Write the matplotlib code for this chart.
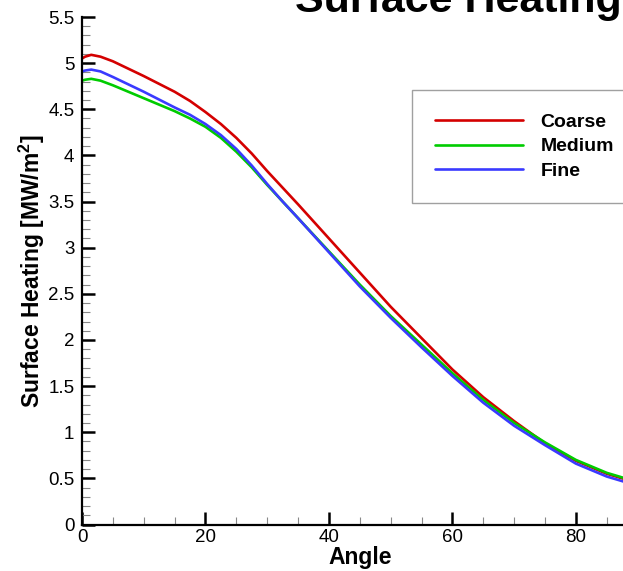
#!/usr/bin/env python3
"""Surface heating vs angle for three grid levels (coarse / medium / fine)."""

import matplotlib
matplotlib.use("Agg")
import matplotlib.pyplot as plt
from matplotlib.ticker import MultipleLocator

# values
angle = [0, 0.5, 1.5, 3, 5, 10, 15, 17.5, 20, 22.5, 25, 27.5, 30, 32.5, 35,
         40, 45, 50, 55, 60, 65, 70, 75, 80, 85, 90]
coarse = [5.05, 5.07, 5.09, 5.07, 5.02, 4.86, 4.69, 4.59, 4.47, 4.34, 4.19, 4.02, 3.83, 3.65, 3.47,
          3.10, 2.73, 2.36, 2.02, 1.68, 1.38, 1.12, 0.88, 0.69, 0.55, 0.45]
medium = [4.81, 4.82, 4.83, 4.81, 4.76, 4.62, 4.48, 4.40, 4.31, 4.19, 4.04, 3.87, 3.68, 3.50, 3.32,
          2.96, 2.60, 2.26, 1.95, 1.64, 1.35, 1.10, 0.89, 0.70, 0.56, 0.46]
fine = [4.91, 4.92, 4.93, 4.91, 4.85, 4.69, 4.52, 4.44, 4.34, 4.22, 4.07, 3.89, 3.69, 3.50, 3.32,
        2.95, 2.58, 2.24, 1.92, 1.61, 1.32, 1.07, 0.86, 0.66, 0.52, 0.42]

series = [("Coarse", coarse, "#d40000"),
          ("Medium", medium, "#00cc00"),
          ("Fine", fine, "#3a3aff")]

W, H = 623, 571

plt.rcParams["font.family"] = ["Liberation Sans", "DejaVu Sans"]
plt.rcParams["mathtext.fontset"] = "custom"
plt.rcParams["mathtext.rm"] = "Liberation Sans:bold"
plt.rcParams["mathtext.bf"] = "Liberation Sans:bold"
plt.rcParams["mathtext.it"] = "Liberation Sans:bold"


def px(x, y):
    """figure fraction from pixel coords (origin top-left)"""
    return x / W, 1 - y / H


def main():
    fig = plt.figure(figsize=(W / 100, H / 100), dpi=100)
    # axes run past the right edge of the picture (the original is cropped)
    x0, y_top, x_end, y_bot = 82, 17, 637.6, 524.5
    ax = fig.add_axes([x0 / W, 1 - y_bot / H, (x_end - x0) / W, (y_bot - y_top) / H])

    for name, vals, col in series:
        ax.plot(angle, vals, color=col, linewidth=1.9, label=name,
                solid_capstyle="round", solid_joinstyle="round")

    ax.set_xlim(0, 90)
    ax.set_ylim(0, 5.5)

    for side in ("top", "right"):
        ax.spines[side].set_visible(False)
    for side in ("left", "bottom"):
        ax.spines[side].set_linewidth(1.6)

    ax.xaxis.set_major_locator(MultipleLocator(20))
    ax.xaxis.set_minor_locator(MultipleLocator(5))
    ax.yaxis.set_minor_locator(MultipleLocator(0.1))
    yt = [0, 0.5, 1, 1.5, 2, 2.5, 3, 3.5, 4, 4.5, 5, 5.5]
    ax.set_yticks(yt)
    ax.set_yticklabels([f"{v:g}" for v in yt])

    ax.tick_params(which="major", direction="in", length=9.5, width=1.8, color="black",
                   labelsize=13.5)
    ax.tick_params(which="minor", direction="in", length=5.5, width=0.8, color="#888888")
    ax.tick_params(axis="x", which="major", pad=3)
    ax.tick_params(axis="y", which="major", pad=5.5)

    ax.set_xlabel("Angle", fontsize=16.5, fontweight="bold")
    ax.set_ylabel(r"Surface Heating [MW/m$^{\mathbf{2}}$]", fontsize=16.5, fontweight="bold")
    ax.xaxis.set_label_coords(0.5, (y_bot - 546) / (y_bot - y_top))
    ax.yaxis.set_label_coords((47 - x0) / (x_end - x0), 0.5)

    leg = ax.legend(loc="upper left", bbox_to_anchor=px(412, 90), bbox_transform=fig.transFigure,
                    borderaxespad=0, fancybox=False, handlelength=4.5, handletextpad=0.9,
                    borderpad=1.2, labelspacing=0.35, prop={"size": 14, "weight": "bold"})
    leg.get_frame().set_edgecolor("#888888")
    leg.get_frame().set_linewidth(1.0)

    # title sits mostly above the crop
    tx, ty = px(295, 12)
    fig.text(tx, ty, "Surface Heating", fontsize=31, fontweight="bold", ha="left", va="baseline")

    fig.savefig("out.png", dpi=100)
    plt.close(fig)


if __name__ == "__main__":
    main()
